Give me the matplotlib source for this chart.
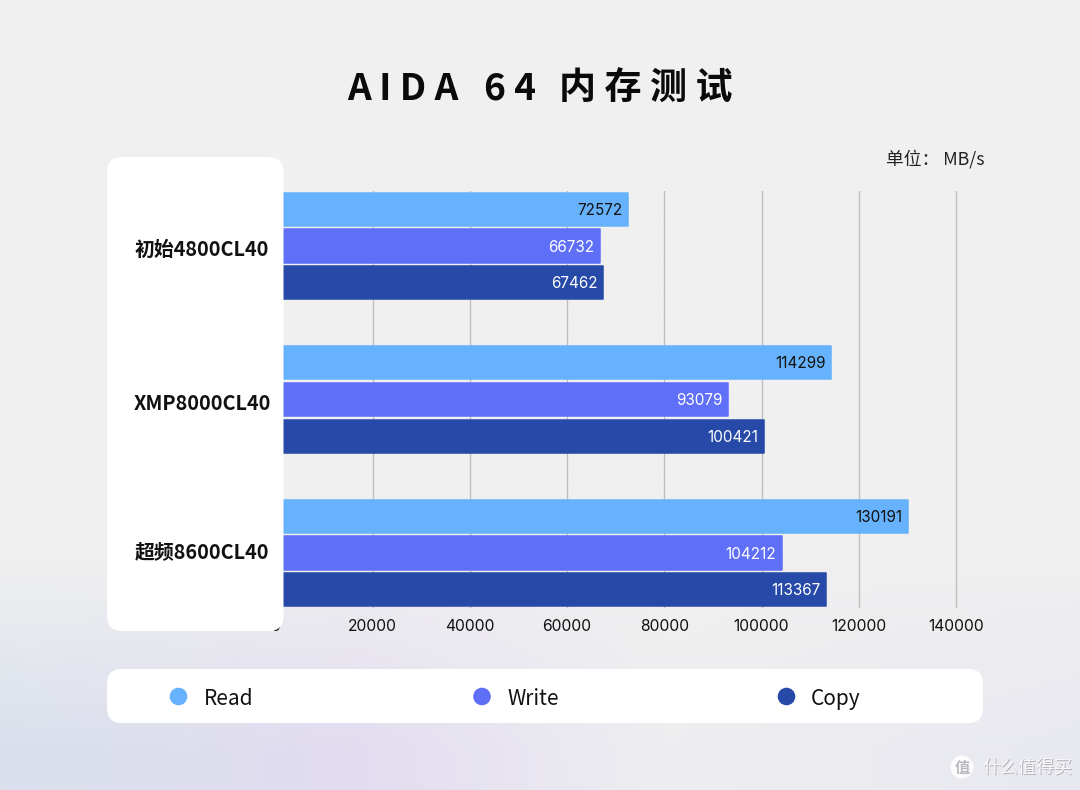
#AIDA64 memory bandwidth, three memory profiles

import numpy as np
import matplotlib
matplotlib.use("Agg")
import matplotlib.pyplot as plt
from matplotlib.patches import FancyBboxPatch, Circle

plt.rcParams['font.family'] = ['Noto Sans CJK SC', 'DejaVu Sans']

profiles = ["初始4800CL40", "XMP8000CL40", "超频8600CL40"]
read_speed = [72572, 114299, 130191]
write_speed = [66732, 93079, 104212]
copy_speed = [67462, 100421, 113367]
series_names = ["Read", "Write", "Copy"]
series_colors = ["#66b2fc", "#5f6ff8", "#2749a7"]
label_colors = ["#111111", "#ffffff", "#ffffff"]
x_ticks = [0, 20000, 40000, 60000, 80000, 100000, 120000, 140000]

W, H = 1080, 790
PX_PER_UNIT = 97.25 / 20000
ZERO_PX = 275.25


def page_gradient():
    # light grey page, blue and lavender tints rising from the bottom edge
    y = np.linspace(0, 1, 200)
    x = np.linspace(0, 1, 270)
    xx, yy = np.meshgrid(x, y)
    top = np.array([240, 240, 240]) / 255
    stops = [0, 0.32, 0.62, 1]
    low = np.stack([np.interp(xx, stops, [217, 226, 238, 232]),
                    np.interp(xx, stops, [224, 220, 238, 232]),
                    np.interp(xx, stops, [236, 240, 240, 240])], axis=-1) / 255
    t = np.clip((yy - 0.70) / 0.25, 0, 1)[..., None]
    return top + (low - top) * t


def rounded(ax, x0, y0, x1, y1, r, **kw):
    ax.add_patch(FancyBboxPatch((x0 + r, y0 + r), x1 - x0 - 2 * r, y1 - y0 - 2 * r,
                                boxstyle=f"round,pad={r},rounding_size={r}",
                                linewidth=0, **kw))


fig = plt.figure(figsize=(W / 100, H / 100), dpi=100)

# full page layer in pixel coordinates
page = fig.add_axes([0, 0, 1, 1], zorder=0)
page.set_xlim(0, W)
page.set_ylim(H, 0)
page.axis("off")
page.imshow(page_gradient(), extent=(0, W, H, 0), aspect="auto", interpolation="bilinear")

# chart axes: one unit of y is one profile group
top_px, bottom_px = 191, 608
right_px = 960
ax = fig.add_axes([ZERO_PX / W, 1 - bottom_px / H, (right_px - ZERO_PX) / W, (bottom_px - top_px) / H],
                  zorder=1)
ax.patch.set_alpha(0)
ax.set_xlim(0, (right_px - ZERO_PX) / PX_PER_UNIT)
group_px = 153.5
ax.set_ylim((bottom_px - 246) / group_px, (top_px - 246) / group_px)

groups = np.arange(len(profiles))
bar_step = 36.7 / group_px
bar_h = 33.4 / group_px
num_font = ['Inter', 'Noto Sans CJK SC']
all_speeds = [read_speed, write_speed, copy_speed]
for s, values in enumerate(all_speeds):
    ypos = groups + (s - 1) * bar_step
    # same colour edge with round joins softens the bar corners
    ax.barh(ypos, values, height=bar_h, color=series_colors[s], edgecolor=series_colors[s],
            linewidth=1.1, joinstyle="round", zorder=3)
    for y, v in zip(ypos, values):
        ax.text(v - 5.5 / PX_PER_UNIT, y + 0.007, str(v), ha="right", va="center",
                fontsize=11, family=num_font, color=label_colors[s], zorder=4)

ax.set_xticks(x_ticks)
ax.set_xticklabels([str(t) for t in x_ticks], fontsize=11.3, family=num_font, color="#111111")
ax.tick_params(axis="x", length=0, pad=8)
ax.set_yticks([])
ax.grid(axis="x", color="#bdbdbd", linewidth=1.0, zorder=1)
ax.set_axisbelow(True)
for side in ax.spines.values():
    side.set_visible(False)

# white cards and text on top of the chart
over = fig.add_axes([0, 0, 1, 1], zorder=2)
over.set_xlim(0, W)
over.set_ylim(H, 0)
over.axis("off")
over.patch.set_alpha(0)

rounded(over, 107, 157, 283.5, 631, 15, facecolor="white")
rounded(over, 107, 669, 983, 723, 15, facecolor="white")

name_y = [249.5, 404, 551.5]
for name, y in zip(profiles, name_y):
    over.text(202, y, name, ha="center", va="center", fontsize=14.3,
              fontweight="bold", color="#111111")

# title words are set apart by hand
title_size = 26.7
over.text(347, 89, "A I D A", ha="left", va="center", fontsize=title_size, fontweight="bold", color="#0a0a0a")
over.text(484, 89, "6 4", ha="left", va="center", fontsize=title_size, fontweight="bold", color="#0a0a0a")
over.text(733, 89, "内 存 测 试", ha="right", va="center", fontsize=title_size, fontweight="bold", color="#0a0a0a")

over.text(984, 159, "单位： MB/s", ha="right", va="center", fontsize=12.8, color="#222222")

# legend strip
legend_dots = [178.5, 482, 786.5]
legend_text = [203.5, 507, 811]
for dot, tx, name, col in zip(legend_dots, legend_text, series_names, series_colors):
    over.add_patch(Circle((dot, 696.5), 8.8, facecolor=col, linewidth=0))
    over.text(tx, 699, name, ha="left", va="center", fontsize=15, color="#111111")

# site mark, lower right
over.add_patch(Circle((962, 767), 11.5, facecolor="#ffffff", alpha=0.9, linewidth=0))
over.text(962, 768.5, "值", ha="center", va="center", fontsize=11, color="#b9b9c0", fontweight="bold")
over.text(1028, 769.5, "什么值得买", ha="center", va="center", fontsize=13, color="#b4b4bc")
over.text(1027, 768.5, "什么值得买", ha="center", va="center", fontsize=13, color="#f8f8f8")

fig.savefig("out.png", dpi=100)
